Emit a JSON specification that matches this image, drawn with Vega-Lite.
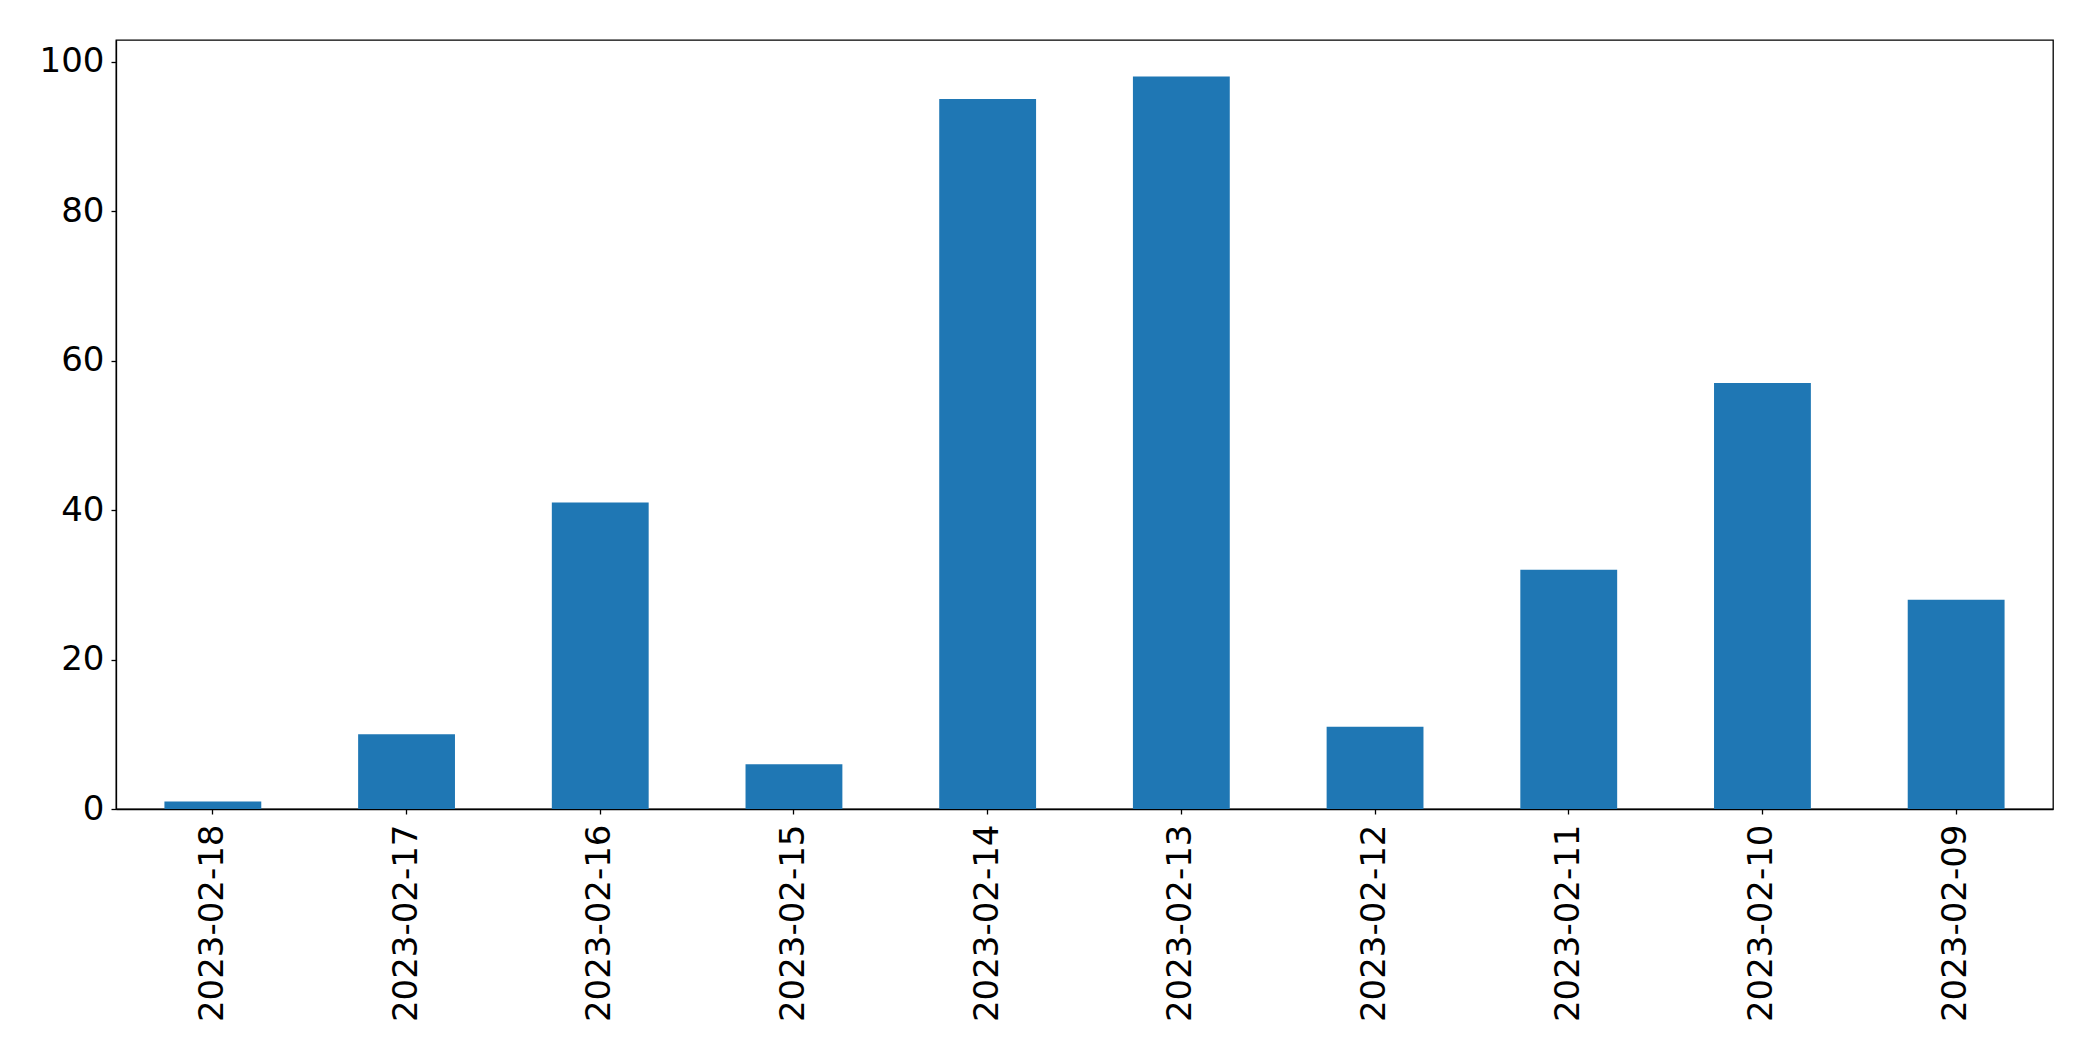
{
  "$schema": "https://vega.github.io/schema/vega-lite/v6.json",
  "autosize": {"type": "none"},
  "padding": {"left": 116, "top": 40, "right": 40, "bottom": 252},
  "width": 1937,
  "height": 769,
  "background": "white",
  "config": {
    "view": {"stroke": "black", "strokeWidth": 1.3},
    "font": "DejaVu Sans",
    "axis": {
      "labelFont": "DejaVu Sans",
      "labelFontSize": 34,
      "labelColor": "black",
      "labelLimit": 500,
      "domainColor": "black",
      "domainWidth": 1.3,
      "tickColor": "black",
      "tickWidth": 1.3,
      "tickSize": 5,
      "grid": false,
      "title": null
    }
  },
  "data": {
    "values": [
      {"date": "2023-02-18", "count": 1},
      {"date": "2023-02-17", "count": 10},
      {"date": "2023-02-16", "count": 41},
      {"date": "2023-02-15", "count": 6},
      {"date": "2023-02-14", "count": 95},
      {"date": "2023-02-13", "count": 98},
      {"date": "2023-02-12", "count": 11},
      {"date": "2023-02-11", "count": 32},
      {"date": "2023-02-10", "count": 57},
      {"date": "2023-02-09", "count": 28}
    ]
  },
  "mark": {"type": "bar", "color": "#1f77b4"},
  "encoding": {
    "x": {
      "field": "date",
      "type": "nominal",
      "sort": null,
      "scale": {"paddingInner": 0.5, "paddingOuter": 0.25},
      "axis": {"labelAngle": 270, "labelPadding": 10, "labelAlign": "right", "labelBaseline": "middle"}
    },
    "y": {
      "field": "count",
      "type": "quantitative",
      "scale": {"domain": [0, 102.9], "nice": false, "zero": true},
      "axis": {"values": [0, 20, 40, 60, 80, 100], "labelPadding": 7}
    }
  }
}
